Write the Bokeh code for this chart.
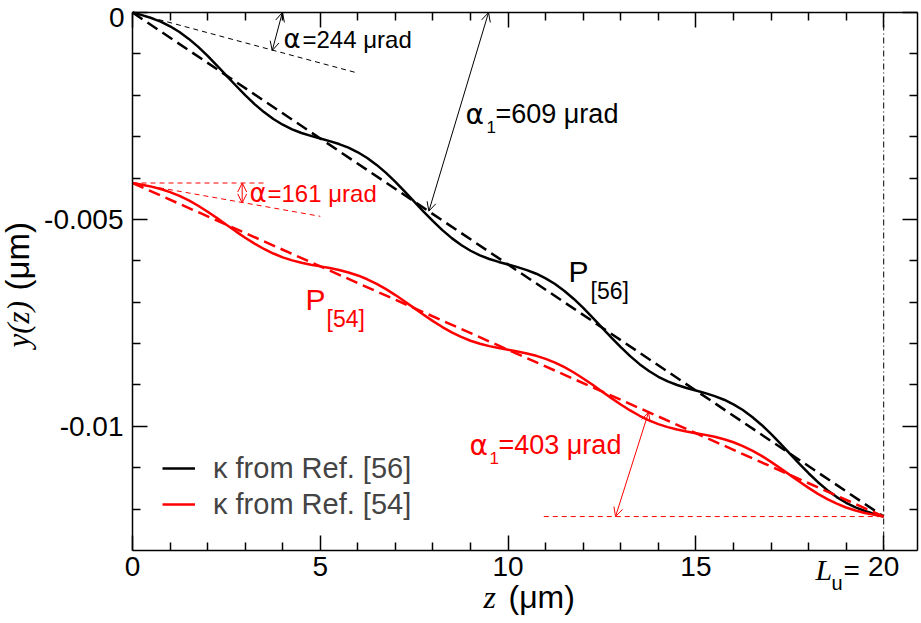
from bokeh.plotting import figure
from bokeh.models import (Range1d, LinearAxis, FixedTicker, Label, Arrow, OpenHead,
                          Legend, LegendItem)
from bokeh.embed import file_html
from bokeh.resources import INLINE

# ---------------- data ----------------
z = [0.0, 0.25, 0.5, 0.75, 1.0, 1.25, 1.5, 1.75, 2.0, 2.25, 2.5, 2.75, 3.0, 3.25, 3.5,
     3.75, 4.0, 4.25, 4.5, 4.75, 5.0, 5.25, 5.5, 5.75, 6.0, 6.25, 6.5, 6.75, 7.0, 7.25,
     7.5, 7.75, 8.0, 8.25, 8.5, 8.75, 9.0, 9.25, 9.5, 9.75, 10.0, 10.25, 10.5, 10.75,
     11.0, 11.25, 11.5, 11.75, 12.0, 12.25, 12.5, 12.75, 13.0, 13.25, 13.5, 13.75, 14.0,
     14.25, 14.5, 14.75, 15.0, 15.25, 15.5, 15.75, 16.0, 16.25, 16.5, 16.75, 17.0, 17.25,
     17.5, 17.75, 18.0, 18.25, 18.5, 18.75, 19.0, 19.25, 19.5, 19.75, 20.0]
y_ref56 = [0.0, -0.000063, -0.000134, -0.000222, -0.000333, -0.000471, -0.000638,
           -0.000831, -0.001048, -0.001281, -0.001523, -0.001764, -0.001998, -0.002214,
           -0.002407, -0.002574, -0.002712, -0.002823, -0.002911, -0.002982, -0.003045,
           -0.003108, -0.003179, -0.003267, -0.003378, -0.003516, -0.003683, -0.003876,
           -0.004093, -0.004326, -0.004568, -0.004809, -0.005043, -0.005259, -0.005452,
           -0.005619, -0.005757, -0.005868, -0.005956, -0.006027, -0.006090, -0.006153,
           -0.006224, -0.006312, -0.006423, -0.006561, -0.006728, -0.006921, -0.007138,
           -0.007371, -0.007613, -0.007854, -0.008088, -0.008304, -0.008497, -0.008664,
           -0.008802, -0.008913, -0.009001, -0.009072, -0.009135, -0.009198, -0.009269,
           -0.009357, -0.009468, -0.009606, -0.009773, -0.009966, -0.010183, -0.010416,
           -0.010658, -0.010899, -0.011133, -0.011349, -0.011542, -0.011709, -0.011847,
           -0.011958, -0.012046, -0.012117, -0.012180]
y_ref54 = [-0.004120, -0.004161, -0.004208, -0.004266, -0.004339, -0.004431, -0.004541,
           -0.004669, -0.004813, -0.004967, -0.005128, -0.005288, -0.005442, -0.005586,
           -0.005714, -0.005824, -0.005916, -0.005989, -0.006047, -0.006094, -0.006135,
           -0.006176, -0.006223, -0.006281, -0.006354, -0.006446, -0.006556, -0.006684,
           -0.006828, -0.006982, -0.007143, -0.007303, -0.007457, -0.007601, -0.007729,
           -0.007839, -0.007931, -0.008004, -0.008062, -0.008109, -0.008150, -0.008191,
           -0.008238, -0.008296, -0.008369, -0.008461, -0.008571, -0.008699, -0.008843,
           -0.008997, -0.009158, -0.009318, -0.009472, -0.009616, -0.009744, -0.009854,
           -0.009946, -0.010019, -0.010077, -0.010124, -0.010165, -0.010206, -0.010253,
           -0.010311, -0.010384, -0.010476, -0.010586, -0.010714, -0.010858, -0.011012,
           -0.011173, -0.011333, -0.011487, -0.011631, -0.011759, -0.011869, -0.011961,
           -0.012034, -0.012092, -0.012139, -0.012180]
fit_z = [0.0, 20.0]
fit_ref56 = [0.0, -0.01218]
fit_ref54 = [-0.00412, -0.01218]

tan56_z = [0.0, 6.0]
tan56_y = [0.0, -0.001464]
hor54_z = [0.0, 3.5]
hor54_y = [-0.00412, -0.00412]
tan54_z = [0.0, 5.0]
tan54_y = [-0.00412, -0.004925]
end54_z = [10.95, 20.0]
end54_y = [-0.01218, -0.01218]

x_ticks = [0, 5, 10, 15, 20]
x_tick_labels = ["0", "5", "10", "15", "20"]
x_minor = [1, 2, 3, 4, 6, 7, 8, 9, 11, 12, 13, 14, 16, 17, 18, 19]
y_ticks = [0.0, -0.005, -0.01]
y_tick_labels = ["0", "-0.005", "-0.01"]
y_minor = [-0.001, -0.002, -0.003, -0.004, -0.006, -0.007, -0.008, -0.009,
           -0.011, -0.012]
legend_labels = ["κ from Ref. [56]", "κ from Ref. [54]"]
L_u = 20.0
X_MIN, X_MAX = 0.0, 20.9
Y_MIN, Y_MAX = -0.013, 0.0

SANS = "Liberation Sans"
SERIF = "Liberation Serif"
GREEK = "DejaVu Sans"
RED = "#ff0000"

# canvas = frame; the axes sit at fixed positions inside it
W, H = 919, 621
FRAME_L, FRAME_R, FRAME_T, FRAME_B = 132, 917, 12, 550
sx = (FRAME_R - FRAME_L) / (X_MAX - X_MIN)
sy = (FRAME_B - FRAME_T) / (Y_MAX - Y_MIN)
xr = Range1d(X_MIN - FRAME_L / sx, X_MIN - FRAME_L / sx + W / sx)
yr = Range1d(Y_MAX + FRAME_T / sy - H / sy, Y_MAX + FRAME_T / sy)

p = figure(width=W, height=H, x_range=xr, y_range=yr,
           output_backend="svg", toolbar_location=None,
           min_border_left=0, min_border_right=0, min_border_top=0, min_border_bottom=0)
p.title.visible = False
p.grid.visible = False
p.outline_line_color = None
p.background_fill_color = "white"
p.border_fill_color = "white"

xt = FixedTicker(ticks=x_ticks, minor_ticks=x_minor)
yt = FixedTicker(ticks=y_ticks, minor_ticks=y_minor)


def style(ax, show):
    ax.major_tick_in = 15
    ax.major_tick_out = 0
    ax.minor_tick_in = 8
    ax.minor_tick_out = 0
    ax.axis_line_width = 1.5
    ax.major_tick_line_width = 1.5
    ax.minor_tick_line_width = 1.5
    ax.axis_line_color = "black"
    ax.major_tick_line_color = "black"
    ax.minor_tick_line_color = "black"
    if show:
        ax.major_label_text_font = SANS
        ax.major_label_text_font_size = "28px"
        ax.major_label_text_color = "black"
        ax.major_label_standoff = 6
    else:
        ax.major_label_text_font_size = "0px"
        ax.major_label_text_alpha = 0
        ax.major_label_standoff = 0


bottom = p.xaxis[0]
left = p.yaxis[0]
bottom.ticker = xt
left.ticker = yt
bottom.major_label_overrides = dict(zip(x_ticks, x_tick_labels))
# the top "0" is written as a label below, so that it stays inside the page
left.major_label_overrides = dict(zip(y_ticks, [""] + y_tick_labels[1:]))
style(bottom, True)
style(left, True)
left.major_label_standoff = 9
bottom.fixed_location = Y_MIN
bottom.bounds = (X_MIN, X_MAX)
left.fixed_location = X_MIN
left.bounds = (Y_MIN, Y_MAX)

top = LinearAxis(ticker=xt, fixed_location=Y_MAX, bounds=(X_MIN, X_MAX))
right = LinearAxis(ticker=yt, fixed_location=X_MAX, bounds=(Y_MIN, Y_MAX))
style(top, False)
style(right, False)
p.add_layout(top, "above")
p.add_layout(right, "right")

# curves
p.line(fit_z, fit_ref56, line_color="black", line_width=2.5, line_dash="12 6")
r56 = p.line(z, y_ref56, line_color="black", line_width=2.5)
p.line(fit_z, fit_ref54, line_color=RED, line_width=2.5, line_dash="12 6")
r54 = p.line(z, y_ref54, line_color=RED, line_width=2.5)

# thin helper lines
p.line(tan56_z, tan56_y, line_color="black", line_width=1, line_dash="5 4")
p.line(hor54_z, hor54_y, line_color=RED, line_width=1, line_dash="5 4")
p.line(tan54_z, tan54_y, line_color=RED, line_width=1, line_dash="5 4")
p.line(end54_z, end54_y, line_color=RED, line_width=1, line_dash="5 4")
p.line([L_u, L_u], [Y_MIN, Y_MAX], line_color="black", line_width=1,
       line_dash="6 3 1 3")


def arrow(x0, y0, x1, y1, color):
    p.add_layout(Arrow(start=OpenHead(size=9, line_width=1, line_color=color),
                       end=OpenHead(size=9, line_width=1, line_color=color),
                       x_start=x0, y_start=y0, x_end=x1, y_end=y1,
                       line_width=1, line_color=color))


arrow(3.99, 0.0, 3.72, -0.00092, "black")
arrow(9.48, 0.0, 7.89, -0.0048, "black")
arrow(2.92, -0.00412, 2.92, -0.0046, RED)
arrow(13.74, -0.00966, 12.86, -0.01218, RED)


SHIFT = 0.3  # Bokeh places the alphabetic baseline about 0.3 em low


def lab(px, py, text, size, color="black", font=SANS, style="normal", rotated=False,
        align="left"):
    """px, py: page position (pixels) of the text's start and baseline."""
    if rotated:
        px = px - SHIFT * size
    else:
        py = py - SHIFT * size
    p.add_layout(Label(x=xr.start + px / sx, y=yr.end - py / sy, text=text,
                       text_font=font, text_font_size=f"{size}px", text_color=color,
                       text_font_style=style, angle=1.5708 if rotated else 0.0,
                       text_align=align, text_baseline="alphabetic"))


lab(124, 25, "0", 28, align="right")

lab(283, 46, "α", 26, font=GREEK)
lab(302, 46, "=244 μrad", 24)
lab(465, 122, "α", 28, font=GREEK)
lab(486, 132, "1", 17)
lab(495, 122, "=609 μrad", 27)
lab(249, 200, "α", 26, RED, font=GREEK)
lab(267, 200, "=161 μrad", 24, RED)
lab(469, 453, "α", 28, RED, font=GREEK)
lab(489, 463, "1", 17, RED)
lab(498, 453, "=403 μrad", 27, RED)
lab(568, 280, "P", 30)
lab(590, 297, "[56]", 23)
lab(305, 308, "P", 30, RED)
lab(326, 325, "[54]", 23, RED)

# axis titles
lab(483, 606, "z", 32, font=SERIF, style="italic")
lab(508, 606, "(μm)", 32)
lab(27, 347, "y(z)", 31, font=SERIF, style="italic", rotated=True)
lab(27, 290, "(μm)", 33, rotated=True)
# L_u marker next to the tick label 20
lab(815, 578, "L", 30, font=SERIF, style="italic")
lab(831, 588, "u", 20)
lab(843, 578, "=", 28)

legend = Legend(items=[LegendItem(label=legend_labels[0], renderers=[r56]),
                       LegendItem(label=legend_labels[1], renderers=[r54])],
                location=(162, H - 522), glyph_width=33, glyph_height=36,
                label_height=36, label_standoff=18, spacing=0, padding=0, margin=0,
                border_line_color=None, background_fill_alpha=0,
                label_text_font=SANS, label_text_font_size="29px")
p.add_layout(legend)

open("out.html", "w").write(file_html(p, INLINE))
